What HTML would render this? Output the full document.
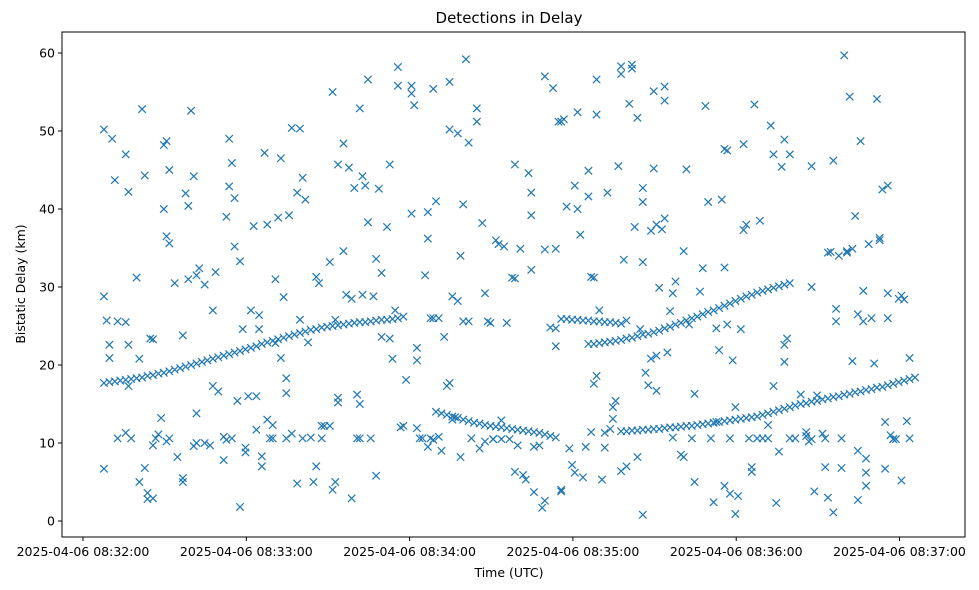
<!DOCTYPE html>
<html><head><meta charset="utf-8"><style>
html,body{margin:0;padding:0;background:#fff;}
svg{display:block;font-family:"DejaVu Sans","Liberation Sans",sans-serif;}
</style></head><body>
<svg id="chart" width="979" height="590" viewBox="0 0 979 590">
<rect x="0" y="0" width="979" height="590" fill="#fff"/>
<text x="509" y="23" text-anchor="middle" font-size="15" fill="#000">Detections in Delay</text>
<g id="marks"></g>
<g id="axes"></g>
<text x="509" y="577" text-anchor="middle" font-size="12.5">Time (UTC)</text>
<text transform="translate(25,284) rotate(-90)" text-anchor="middle" font-size="12.5">Bistatic Delay (km)</text>
</svg>
<script>
// seconds relative to 08:32:00 of the first detection in the lists below
const startOffset = 7.7;
const yTicks = [0,10,20,30,40,50,60];
const xTickSeconds = [0,60,120,180,240,300];
const xTickLabels = ["2025-04-06 08:32:00","2025-04-06 08:33:00","2025-04-06 08:34:00","2025-04-06 08:35:00","2025-04-06 08:36:00","2025-04-06 08:37:00"];

const trackATime = [0,2,4,6,8,10,12,14,16,18,20,22,24,26,28,30,32,34,36,38,40,42,44,46,48,50,52,54,56,58,60,62,64,66,68,70,72,74,76,78,80,82,84,86,88,90,92,94,96,98,100,102,104,106,108,110];
const trackADelay = [17.7,17.8,17.9,18.0,18.1,18.2,18.3,18.4,18.6,18.7,18.9,19.0,19.2,19.4,19.6,19.8,20.0,20.2,20.4,20.6,20.8,21.0,21.2,21.4,21.6,21.8,22.0,22.2,22.4,22.7,22.9,23.1,23.3,23.5,23.7,23.9,24.1,24.3,24.5,24.6,24.8,24.9,25.0,25.1,25.2,25.3,25.4,25.5,25.5,25.6,25.7,25.8,25.8,25.9,26.0,26.2];
const trackBTime = [122,124,126,128,130,132,134,136,138,140,142,144,146,148,150,152,154,156,158,160,162,164,166];
const trackBDelay = [14.0,13.8,13.6,13.4,13.2,13.0,12.8,12.6,12.5,12.3,12.2,12.1,12.0,11.9,11.8,11.7,11.6,11.5,11.4,11.3,11.1,10.9,10.7];
const trackCTime = [168,170,172,174,176,178,180,182,184,186,188,190];
const trackCDelay = [25.9,25.9,25.8,25.8,25.7,25.7,25.6,25.6,25.5,25.5,25.4,25.3];
const trackDTime = [178,180,182,184,186,188,190,192,194,196,198,200,202,204,206,208,210,212,214,216,218,220,222,224,226,228,230,232,234,236,238,240,242,244,246,248,250,252];
const trackDDelay = [22.7,22.7,22.8,22.9,23.0,23.1,23.2,23.4,23.5,23.7,23.9,24.0,24.2,24.4,24.7,24.9,25.2,25.4,25.7,26.0,26.2,26.5,26.8,27.0,27.3,27.6,27.9,28.2,28.5,28.8,29.0,29.3,29.5,29.7,29.9,30.1,30.3,30.5];
const trackETime = [190,192,194,196,198,200,202,204,206,208,210,212,214,216,218,220,222,224,226,228,230,232,234,236,238,240,242,244,246,248,250,252,254,256,258,260,262,264,266,268,270,272,274,276,278,280,282,284,286,288,290,292,294,296,298];
const trackEDelay = [11.5,11.5,11.6,11.6,11.7,11.7,11.8,11.8,11.9,12.0,12.0,12.1,12.2,12.2,12.3,12.4,12.5,12.6,12.7,12.8,12.9,13.0,13.1,13.2,13.3,13.4,13.6,13.8,14.0,14.2,14.4,14.6,14.8,15.0,15.1,15.3,15.4,15.6,15.7,15.9,16.0,16.2,16.3,16.5,16.6,16.8,16.9,17.1,17.2,17.4,17.6,17.8,18.0,18.2,18.4];
const clutter = [[0,28.8],[0,50.2],[1,25.7],[0,6.7],[2,20.9],[2,22.6],[3,49],[4,43.7],[5,25.6],[5,10.6],[8,47],[8,25.5],[8,11.3],[9,22.6],[9,42.2],[10,10.6],[9,17.3],[12,31.2],[13,20.8],[13,5],[14,52.8],[15,44.3],[15,6.8],[16,2.8],[16,3.6],[17,23.4],[18,23.3],[18,2.9],[18,9.7],[19,10.6],[20,11.1],
[21,13.2],[22,40],[22,48.2],[23,36.5],[23,48.7],[24,45],[24,35.6],[23,10.2],[24,10.6],[26,30.5],[27,8.2],[29,5],[29,5.5],[29,23.8],[30,42],[31,31],[31,40.4],[32,52.6],[33,44.2],[33,9.6],[34,13.8],[34,10],[34,31.5],[35,32.4],[37,10],[37,30.3],[39,9.7],[40,17.3],[40,27],[41,31.9],[42,16.6],
[44,7.8],[44,10.8],[45,39],[45,10.4],[46,42.9],[46,49],[47,45.9],[47,10.6],[48,35.2],[48,41.4],[49,15.4],[50,33.3],[50,1.8],[51,24.6],[52,9.4],[52,8.8],[53,16],[54,27],[55,37.8],[56,11.7],[56,16],[57,26.4],[57,24.6],[58,8.3],[58,7],[59,47.2],[60,38],[60,13],[61,10.6],[62,12.3],[62,10.6],[63,22.8],[63,31],[64,38.9],
[65,46.5],[65,20.9],[66,28.7],[67,18.3],[67,16.4],[67,10.6],[68,39.2],[69,11.2],[69,50.4],[71,42.1],[71,4.8],[72,50.3],[72,25.8],[73,10.6],[73,44],[74,41.2],[75,22.9],[76,10.7],[77,5],[78,7],[78,31.3],[79,30.5],[80,12.2],[80,10.6],[81,12.2],[83,12.2],[83,33.2],[84,4],[84,55],[85,5],[85,25.8],[86,45.7],[86,15.8],[86,15.2],
[88,48.4],[88,34.6],[89,29],[90,45.3],[91,2.9],[91,28.5],[92,42.7],[93,10.6],[93,16.2],[94,10.6],[94,15],[94,52.9],[95,44.2],[95,29],[96,43],[97,56.6],[97,38.3],[98,10.6],[99,28.8],[100,5.8],[100,33.6],[101,42.6],[102,23.6],[102,31.8],[104,37.7],[105,23.4],[105,45.7],[106,20.8],[107,27],[108,58.2],[108,55.8],
[109,12],[110,12.2],[111,18.1],[113,54.8],[113,55.8],[113,39.4],[114,53.3],[115,22.2],[115,20.6],[115,11.9],[116,10.6],[117,10.6],[118,31.5],[119,9.5],[119,39.6],[120,10.6],[119,36.2],[120,26],[121,55.4],[121,26],[121,10.4],[122,41],[123,26],[123,10.8],[124,9],[125,23.6],[126,17.3],[127,17.7],[127,50.2],[127,56.3],[128,28.8],[128,13],[129,13.3],[130,28.2],
[130,49.7],[131,34],[131,8.2],[132,40.6],[132,25.6],[133,59.2],[134,48.5],[134,25.6],[135,10.6],[137,51.2],[137,52.9],[138,9.3],[139,38.2],[140,29.2],[140,10.2],[141,25.6],[142,25.4],[143,10.5],[143,10.5],[144,36],[145,35.5],[146,10.5],[146,12.9],[147,35.2],[148,25.4],[149,10.5],[150,31.2],[151,31.1],[151,45.7],[151,6.3],[152,9.7],
[153,34.9],[154,5.9],[155,5.3],[156,44.6],[157,39.2],[157,42.1],[157,32.2],[158,3.7],[158,9.5],[160,9.7],[161,1.7],[162,2.6],[162,57],[162,34.8],[164,24.8],[165,55.5],[166,22.4],[166,34.9],[166,24.7],[167,51.2],[168,51.2],[168,4],[168,3.8],[169,51.5],[170,40.3],[171,9.3],[172,7.2],[173,6.2],[173,43],[174,52.4],[174,40],[175,36.7],
[176,5.6],[177,9.5],[178,41.6],[178,44.9],[179,11.4],[179,31.3],[180,31.2],[180,17.6],[181,52.1],[181,56.6],[181,18.6],[182,27],[183,5.3],[184,11.3],[184,9.4],[185,42.1],[186,11.8],[187,13.1],[187,14.6],[188,15.4],[189,45.5],[190,57.3],[190,58.3],[190,6.4],[191,33.5],[192,7],[192,25.7],[193,53.5],[194,58.5],[194,58],[195,37.7],[196,8.2],
[196,51.7],[197,24.6],[198,42.7],[198,0.8],[198,40.9],[198,33.2],[199,19],[200,17.4],[201,20.8],[201,37.2],[202,55.1],[202,45.2],[203,16.7],[203,38],[203,21.2],[204,29.9],[205,37.4],[206,55.7],[206,53.9],[206,38.8],[207,21.6],[208,26.9],[209,29.2],[209,10.7],[210,30.7],[212,8.5],[213,34.6],[213,8.2],[214,45.1],[215,25.2],[216,10.6],[217,5],[217,16.3],
[219,29.4],[220,32.4],[221,53.2],[222,40.9],[223,10.6],[224,2.4],[225,24.7],[225,12.7],[226,21.9],[227,41.2],[228,47.7],[228,4.5],[228,32.5],[229,25.2],[229,47.5],[230,3.5],[230,10.6],[231,20.6],[232,14.6],[232,0.9],[233,3.2],[234,24.6],[235,48.3],[235,37.3],[236,38],[237,10.6],[238,6.9],[238,6.3],[239,53.4],[240,10.6],[241,38.5],
[242,10.6],[244,10.6],[244,12.3],[245,50.7],[246,47],[246,17.3],[247,2.3],[248,8.9],[249,45.4],[250,48.9],[250,20.4],[250,22.6],[251,23.4],[252,47],[252,10.6],[254,10.6],[256,16.2],[258,10.9],[258,11.4],[259,10.2],[260,10.5],[260,30],[260,45.5],[261,3.8],[262,16.1],
[264,11.2],[265,10.6],[265,6.9],[266,3],[266,34.4],[267,34.5],[268,46.2],[268,1.1],[269,25.6],[269,27.2],[270,34],[271,10.6],[271,6.8],[272,59.7],[273,34.4],[273,34.6],[274,54.4],[275,34.9],[275,20.5],[276,39.1],[277,26.5],[277,9],[277,2.7],[278,48.7],[279,25.6],[279,29.5],[280,4.5],[280,6.2],[280,8],[281,35.5],[282,26],[283,20.2],[284,54.1],
[285,36.3],[285,36],[286,42.5],[287,12.7],[287,6.7],[288,43],[288,29.2],[288,26],[289,11],[290,10.5],[290,10.5],[291,10.5],[292,28.5],[293,28.9],[293,5.2],[294,28.4],[295,12.8],[296,10.6],[296,20.9]];

const NS = "http://www.w3.org/2000/svg";
const L = 62, R = 965, T = 32, B = 537;
function xScale(sec){ return 83 + sec * (163.3/60); }
function yScale(v){ return 521 - v * 7.8; }
const marks = document.getElementById('marks');
const axes = document.getElementById('axes');
function mk(tag, attrs, parent){ const e = document.createElementNS(NS, tag); for (const k in attrs) e.setAttribute(k, attrs[k]); parent.appendChild(e); return e; }

function addPoint(t, v){
  const x = xScale(t + startOffset), y = yScale(v), s = 3.7;
  const p = mk('path', {d:`M${x-s},${y-s}L${x+s},${y+s}M${x-s},${y+s}L${x+s},${y-s}`, stroke:'#1f77b4', 'stroke-width':1.2, fill:'none'}, marks);
  
  
}
function addTrack(times, delays){ for (let i=0;i<times.length;i++) addPoint(times[i], delays[i]); }
clutter.forEach(function(c){ addPoint(c[0], c[1]); });
addTrack(trackATime, trackADelay);
addTrack(trackBTime, trackBDelay);
addTrack(trackCTime, trackCDelay);
addTrack(trackDTime, trackDDelay);
addTrack(trackETime, trackEDelay);

const frame = mk('rect', {x:L, y:T, width:R-L, height:B-T, fill:'none', stroke:'#000', 'stroke-width':1}, axes);


yTicks.forEach(function(v){
  const y = yScale(v);
  const tk = mk('line', {x1:L-4, x2:L, y1:y, y2:y, stroke:'#000'}, axes);
  
  
  const lb = mk('text', {x:L-7, y:y+4.5, 'text-anchor':'end', 'font-size':12.5}, axes);
  lb.textContent = v;
  
  
});
xTickSeconds.forEach(function(s, i){
  const x = xScale(s);
  const tk = mk('line', {x1:x, x2:x, y1:B, y2:B+4, stroke:'#000'}, axes);
  
  
  const lb = mk('text', {x:x, y:B+19, 'text-anchor':'middle', 'font-size':12.5}, axes);
  lb.textContent = xTickLabels[i];
  
  
});
</script>
</body></html>
